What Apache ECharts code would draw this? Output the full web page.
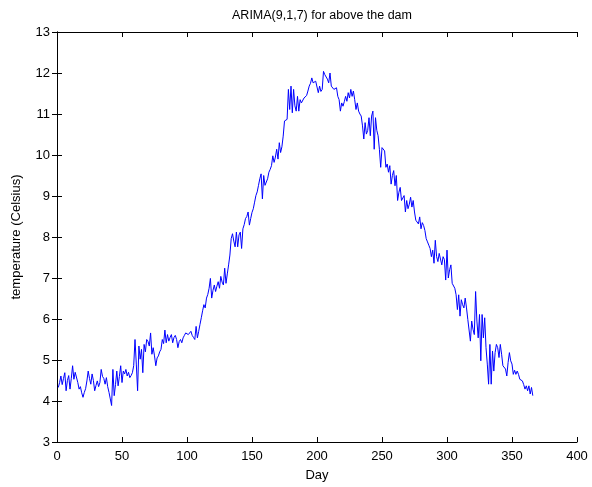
<!DOCTYPE html>
<html>
<head>
<meta charset="utf-8">
<script src="https://cdn.jsdelivr.net/npm/echarts@6/dist/echarts.min.js"></script>
<style>html,body{margin:0;padding:0;background:#fff;}#c{width:592px;height:487px;}</style>
</head>
<body>
<div id="c"></div>
<script>
// Daily temperature (Celsius), day 1 .. 366
const temps = [
  4.33,4.45,4.61,4.40,4.55,4.69,4.25,4.50,4.62,4.29,
  4.55,4.86,4.53,4.70,4.66,4.45,4.29,4.35,4.20,4.09,
  4.21,4.30,4.49,4.73,4.55,4.41,4.66,4.50,4.25,4.38,
  4.49,4.35,4.45,4.77,4.60,4.55,4.41,4.57,4.35,4.21,
  4.05,3.89,4.77,4.13,4.40,4.73,4.37,4.60,4.86,4.45,
  4.73,4.66,4.77,4.61,4.70,4.57,4.62,4.69,4.86,5.50,
  4.90,4.25,5.34,5.02,5.26,4.69,5.38,5.20,5.50,5.45,
  5.34,5.66,5.14,5.30,5.10,4.86,5.05,5.10,5.20,5.26,
  5.50,5.40,5.73,5.42,5.62,5.46,5.55,5.62,5.42,5.55,
  5.60,5.50,5.30,5.45,5.50,5.42,5.54,5.60,5.66,5.62,
  5.62,5.58,5.70,5.60,5.55,5.50,5.82,5.54,5.70,5.87,
  6.03,6.20,6.35,6.27,6.51,6.60,6.75,6.99,6.51,6.70,
  6.83,6.67,6.80,6.91,6.75,7.04,6.90,6.83,7.24,6.87,
  7.10,7.32,7.56,7.96,8.08,7.90,7.76,8.12,7.76,8.05,
  8.12,7.72,8.20,8.30,8.45,8.50,8.61,8.29,8.45,8.60,
  8.69,8.85,9.01,9.10,9.26,9.42,9.54,8.93,9.50,9.26,
  9.30,9.42,9.58,9.65,9.74,9.98,9.82,9.95,10.14,9.90,
  10.30,10.06,10.20,10.46,10.83,10.85,10.87,11.60,11.11,11.68,
  11.03,11.60,11.20,11.07,11.43,11.07,11.35,11.27,11.30,11.39,
  11.35,11.45,11.56,11.68,11.75,11.88,11.76,11.72,11.80,11.76,
  11.52,11.68,11.55,11.60,12.04,11.96,12.00,11.85,11.76,12.00,
  11.68,11.72,11.60,11.56,11.64,11.43,11.35,11.07,11.27,11.19,
  11.30,11.43,11.31,11.52,11.39,11.60,11.43,11.56,11.35,11.11,
  11.27,11.07,11.00,10.95,10.71,10.39,10.79,10.51,10.60,10.91,
  10.47,10.95,11.07,10.14,10.91,10.60,10.47,10.14,9.70,10.18,
  10.14,10.10,9.70,9.78,9.58,9.74,9.29,9.50,9.62,9.25,
  9.50,8.89,9.09,9.21,8.89,8.95,9.01,8.61,8.89,8.69,
  8.80,8.97,8.73,8.89,8.61,8.41,8.45,8.32,8.49,8.20,
  8.35,8.28,8.16,7.96,7.88,7.80,7.72,7.52,7.68,7.36,
  7.92,7.52,7.40,7.60,7.56,7.32,7.52,7.45,6.95,7.68,
  7.00,7.20,7.32,6.87,6.91,6.75,6.59,6.23,6.59,6.07,
  6.47,6.35,6.27,6.51,6.27,5.99,6.03,5.46,5.95,5.75,
  5.62,6.67,5.95,5.54,6.11,4.98,6.11,5.54,6.03,5.30,
  4.90,4.41,5.38,4.41,5.22,4.73,5.18,5.38,5.30,5.06,
  5.38,5.14,4.86,4.90,4.78,4.61,4.94,5.18,4.98,4.90,
  4.65,4.75,4.65,4.73,4.65,4.53,4.57,4.49,4.40,4.29,
  4.37,4.25,4.37,4.17,4.33,4.13
];
const firstDay = 1;
const xTicks = [0,50,100,150,200,250,300,350,400];
const yTicks = [3,4,5,6,7,8,9,10,11,12,13];

const titleText = 'ARIMA(9,1,7) for above the dam';
const xName = 'Day';
const yName = 'temperature (Celsius)';

const seriesData = temps.map((v, i) => [firstDay + i, v]);
const font = 'Liberation Sans, Arial, Helvetica, sans-serif';

const axisCommon = {
  axisLine: { show: true, lineStyle: { color: '#000', width: 1 } },
  axisTick: { show: true, inside: true, length: 5, lineStyle: { color: '#000' } },
  splitLine: { show: false },
};

const chart = echarts.init(document.getElementById('c'), null, { renderer: 'canvas' });
chart.setOption({
  animation: false,
  backgroundColor: '#fff',
  title: {
    text: titleText,
    left: 317, top: 4, textAlign: 'center',
    textStyle: { fontFamily: font, fontSize: 12.5, fontWeight: 'normal', color: '#000' }
  },
  grid: { left: 57, right: 15, top: 32, bottom: 42, containLabel: false },
  xAxis: [
    Object.assign({}, axisCommon, {
      type: 'value', min: xTicks[0], max: xTicks[xTicks.length - 1], interval: 50,
      position: 'bottom',
      name: xName, nameLocation: 'middle', nameGap: 27,
      nameTextStyle: { fontFamily: font, fontSize: 13, color: '#000' },
      axisLabel: { margin: 8, fontFamily: font, fontSize: 13, color: '#000' }
    }),
    Object.assign({}, axisCommon, {
      type: 'value', min: xTicks[0], max: xTicks[xTicks.length - 1], interval: 50,
      position: 'top', axisLabel: { show: false }
    })
  ],
  yAxis: [
    Object.assign({}, axisCommon, {
      type: 'value', min: yTicks[0], max: yTicks[yTicks.length - 1], interval: 1,
      position: 'left',
      name: yName, nameLocation: 'middle', nameGap: 34, nameRotate: 90,
      nameTextStyle: { fontFamily: font, fontSize: 13, color: '#000' },
      axisLabel: { margin: 7, fontFamily: font, fontSize: 13, color: '#000' }
    }),
    Object.assign({}, axisCommon, {
      type: 'value', min: yTicks[0], max: yTicks[yTicks.length - 1], interval: 1,
      position: 'right', axisLabel: { show: false }
    })
  ],
  series: [{
    type: 'line',
    data: seriesData,
    xAxisIndex: 0, yAxisIndex: 0,
    showSymbol: false, symbol: 'none',
    lineStyle: { color: '#0000ff', width: 1 },
    silent: true
  }]
});
</script>
</body>
</html>
